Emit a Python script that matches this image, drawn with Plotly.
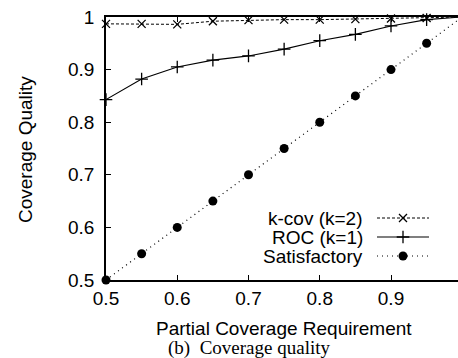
import plotly.graph_objects as go

x_vals = [0.5, 0.55, 0.6, 0.65, 0.7, 0.75, 0.8, 0.85, 0.9, 0.95, 1.0]
kcov = [0.987, 0.987, 0.986, 0.992, 0.994, 0.995, 0.995, 0.996, 0.997, 0.998, 1.0]
roc = [0.843, 0.882, 0.905, 0.918, 0.926, 0.939, 0.955, 0.967, 0.983, 0.995, 1.0]
satisfactory = [0.5, 0.55, 0.6, 0.65, 0.7, 0.75, 0.8, 0.85, 0.9, 0.95, 1.0]
series_names = ["k-cov (k=2)", "ROC (k=1)", "Satisfactory"]
x_ticks = [0.5, 0.6, 0.7, 0.8, 0.9]
y_ticks = [0.5, 0.6, 0.7, 0.8, 0.9, 1.0]
y_ticktext = ["0.5", "0.6", "0.7", "0.8", "0.9", "1"]

W, H = 458, 358
L, R, T, B = 106, 0, 17, 78
PW, PH = W - L - R, H - T - B

SANS = "Liberation Sans, Arial, sans-serif"
SERIF = "Liberation Serif, Times New Roman, serif"
FS = 19

styles = [
    dict(dash="3px,2px", width=1, symbol="x-thin-open", msize=8, mline=1.3),
    dict(dash="solid", width=1.1, symbol="cross-thin-open", msize=9, mline=1.3),
    dict(dash="1px,4px", width=1.2, symbol="circle", msize=9, mline=0),
]
data = [kcov, roc, satisfactory]

fig = go.Figure()
for name, ys, st in zip(series_names, data, styles):
    fig.add_trace(go.Scatter(
        x=x_vals, y=ys, mode="lines+markers", name=name, showlegend=False,
        line=dict(color="black", width=st["width"], dash=st["dash"]),
        marker=dict(symbol=st["symbol"], size=st["msize"], color="black",
                    line=dict(color="black", width=st["mline"])),
        cliponaxis=False,
    ))

# manual gnuplot-style key (text left, sample right) on an overlay pixel axis
key_rows = [201, 220, 239]
for name, st, ry in zip(series_names, styles, key_rows):
    fig.add_trace(go.Scatter(
        x=[271, 323], y=[ry, ry], mode="lines", xaxis="x2", yaxis="y2",
        showlegend=False, hoverinfo="skip",
        line=dict(color="black", width=st["width"], dash=st["dash"]),
    ))
    fig.add_trace(go.Scatter(
        x=[297], y=[ry], mode="markers", xaxis="x2", yaxis="y2",
        showlegend=False, hoverinfo="skip",
        marker=dict(symbol=st["symbol"], size=st["msize"], color="black",
                    line=dict(color="black", width=st["mline"])),
    ))
    fig.add_annotation(x=259, y=ry, xref="x2", yref="y2", text=name,
                       showarrow=False, xanchor="right", yanchor="middle",
                       font=dict(family=SANS, size=FS, color="black"))

fig.add_annotation(x=(284 - L) / PW, y=(280 - 328) / PH, xref="paper", yref="paper",
                   text="Partial Coverage Requirement", showarrow=False,
                   xanchor="center", yanchor="middle",
                   font=dict(family=SANS, size=FS, color="black"))
fig.add_annotation(x=(249 - L) / PW, y=(280 - 348) / PH, xref="paper", yref="paper",
                   text="(b)  Coverage quality", showarrow=False,
                   xanchor="center", yanchor="middle",
                   font=dict(family=SERIF, size=19, color="black"))
fig.add_annotation(x=(25 - L) / PW, y=(280 - 150) / PH, xref="paper", yref="paper",
                   text="Coverage Quality", showarrow=False, textangle=-90,
                   xanchor="center", yanchor="middle",
                   font=dict(family=SANS, size=FS, color="black"))

fig.update_layout(
    width=W, height=H,
    margin=dict(l=L, r=R, t=T, b=B, pad=0),
    paper_bgcolor="white", plot_bgcolor="white",
    xaxis=dict(range=[0.5, 0.5 + PW / 712.5], tickvals=x_ticks,
               ticktext=[f"{v:.1f}" for v in x_ticks],
               ticks="inside", ticklen=5, tickwidth=1, tickcolor="black",
               showline=True, linecolor="black", linewidth=1.5, mirror="ticks",
               showgrid=False, zeroline=False,
               tickfont=dict(family=SANS, size=FS, color="black")),
    yaxis=dict(range=[0.5, 1.0], tickvals=y_ticks, ticktext=y_ticktext,
               ticks="inside", ticklen=5, tickwidth=1, tickcolor="black",
               showline=True, linecolor="black", linewidth=1.5, mirror=False,
               showgrid=False, zeroline=False, ticklabelstandoff=6,
               tickfont=dict(family=SANS, size=FS, color="black")),
    xaxis2=dict(range=[0, PW], overlaying="x", visible=False, fixedrange=True),
    yaxis2=dict(range=[PH, 0], overlaying="y", visible=False, fixedrange=True),
)

fig.write_html("out.html")
